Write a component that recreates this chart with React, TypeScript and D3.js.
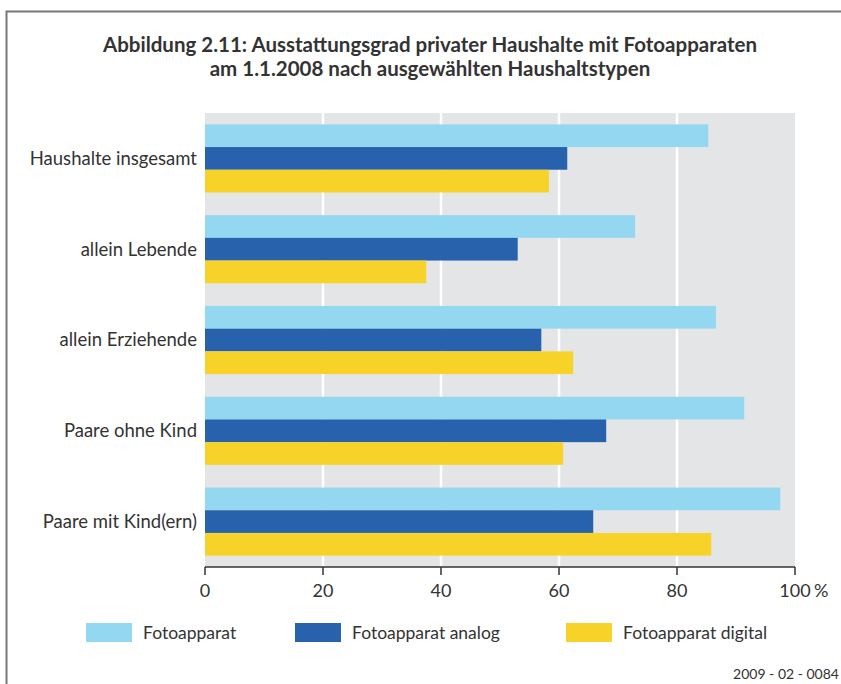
import React from "react";
import * as d3 from "d3";

const categories = [
  "Haushalte insgesamt",
  "allein Lebende",
  "allein Erziehende",
  "Paare ohne Kind",
  "Paare mit Kind(ern)",
];
const seriesNames = ["Fotoapparat", "Fotoapparat analog", "Fotoapparat digital"];
const fotoapparat = [85.3, 72.9, 86.6, 91.4, 97.5];
const analog = [61.4, 53.0, 57.0, 68.0, 65.8];
const digital = [58.3, 37.5, 62.4, 60.7, 85.8];
const xTicks = [0, 20, 40, 60, 80, 100];
const colors = ["#94d7f0", "#2862ad", "#f7d32a"];

const W = 841;
const H = 684;
const FONT = "Lato, 'Open Sans', sans-serif";
const TEXT = "#333333";

export default function App() {
  const series = [fotoapparat, analog, digital];
  const x = d3.scaleLinear().domain([0, 100]).range([205, 795]);
  const y = d3
    .scaleBand<string>()
    .domain(categories)
    .range([113, 567])
    .paddingInner(0.25)
    .paddingOuter(0.125);
  const ySub = d3
    .scaleBand<number>()
    .domain(d3.range(series.length))
    .range([0, y.bandwidth()]);

  const legendX = [86, 295, 566];

  return (
    <svg
      width={W}
      height={H}
      style={{ position: "absolute", left: 0, top: 0, background: "#fff" }}
      fontFamily={FONT}
    >
      {/* frame */}
      <path d={`M6.5,${H} V11.5 H${W}`} fill="none" stroke="#777" strokeWidth={2} />

      {/* title */}
      <text x={430} y={52} textAnchor="middle" fontSize={20.5} fontWeight="bold" fill={TEXT}>
        Abbildung 2.11: Ausstattungsgrad privater Haushalte mit Fotoapparaten
      </text>
      <text x={430} y={76} textAnchor="middle" fontSize={20.5} fontWeight="bold" fill={TEXT}>
        am 1.1.2008 nach ausgewählten Haushaltstypen
      </text>

      {/* plot background */}
      <rect x={x(0)} y={113} width={x(100) - x(0)} height={567 - 113} fill="#e4e5e7" />
      {xTicks
        .filter((t) => t > 0 && t < 100)
        .map((t) => (
          <line key={t} x1={x(t)} x2={x(t)} y1={113} y2={567} stroke="#fff" strokeWidth={2.5} />
        ))}

      {/* bars */}
      {categories.map((c, i) => (
        <g key={c}>
          {series.map((s, j) => (
            <rect
              key={j}
              x={x(0)}
              y={(y(c) as number) + (ySub(j) as number)}
              width={x(s[i]) - x(0)}
              height={ySub.bandwidth()}
              fill={colors[j]}
            />
          ))}
          <text
            x={197}
            y={(y(c) as number) + y.bandwidth() / 2}
            dy="0.35em"
            textAnchor="end"
            fontSize={18.5}
            fill={TEXT}
          >
            {c}
          </text>
        </g>
      ))}

      {/* axis */}
      <line x1={x(0)} x2={x(100)} y1={567} y2={567} stroke="#333" strokeWidth={1.5} />
      {xTicks.map((t) => (
        <g key={t}>
          <line x1={x(t)} x2={x(t)} y1={567} y2={575} stroke="#333" strokeWidth={1.5} />
          <text x={x(t)} y={597} textAnchor="middle" fontSize={18} fill={TEXT}>
            {t}
          </text>
          {t === 100 && (
            <text x={x(t) + 19} y={597} textAnchor="start" fontSize={18} fill={TEXT}>
              %
            </text>
          )}
        </g>
      ))}

      {/* legend */}
      {seriesNames.map((n, j) => (
        <g key={n}>
          <rect x={legendX[j]} y={623} width={46} height={19} fill={colors[j]} />
          <text x={legendX[j] + 57} y={639} fontSize={17.5} fill={TEXT}>
            {n}
          </text>
        </g>
      ))}

      {/* footer */}
      <text x={839} y={679} textAnchor="end" fontSize={14} fill={TEXT}>
        2009 - 02 - 0084
      </text>
    </svg>
  );
}
